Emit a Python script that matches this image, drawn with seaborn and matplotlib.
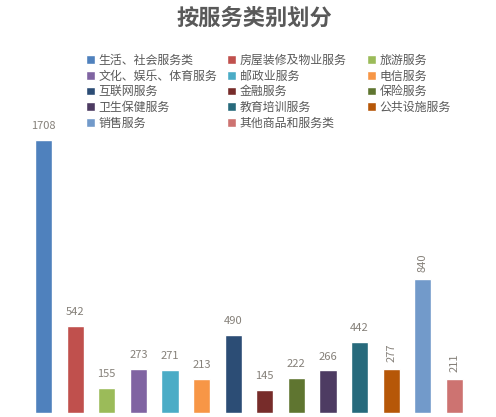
import matplotlib
matplotlib.use("Agg")
import matplotlib.pyplot as plt
import seaborn as sns

# categorias y valores
categorias = ['生活、社会服务类', '房屋装修及物业服务', '旅游服务', '文化、娱乐、体育服务',
              '邮政业服务', '电信服务', '互联网服务', '金融服务', '保险服务',
              '卫生保健服务', '教育培训服务', '公共设施服务', '销售服务', '其他商品和服务类']
valores = [1708, 542, 155, 273, 271, 213, 490, 145, 222, 266, 442, 277, 840, 211]
colores = ['#4F81BD', '#C0504D', '#9BBB59', '#8064A2', '#4BACC6', '#F79646', '#2C4D75',
           '#772C2A', '#5F7530', '#4D3B62', '#276A7C', '#B65708', '#729ACA', '#CD7371']
# etiquetas que van giradas en el original
girados = ['公共设施服务', '销售服务', '其他商品和服务类']

sns.set_style("white")
plt.rcParams['font.family'] = ['Noto Sans CJK SC', 'DejaVu Sans']

W, H = 496, 417
fig = plt.figure(figsize=(W / 100, H / 100), dpi=100)
ax = fig.add_axes([27.7 / W, 4 / H, 442.6 / W, 273 / H])

sns.barplot(x=categorias, y=valores, hue=categorias, palette=colores,
            width=0.54, legend=True, ax=ax, saturation=1)
handles, labels = ax.get_legend_handles_labels()
ax.get_legend().remove()

ax.set_ylim(0, max(valores))
ax.set_xlim(-0.5, len(categorias) - 0.5)
sns.despine(ax=ax, left=True, bottom=True)
ax.set_xticks([])
ax.set_yticks([])
ax.set_xlabel('')
ax.set_ylabel('')

# etiquetas de valores
for i, (cat, v) in enumerate(zip(categorias, valores)):
    if cat in girados:
        ax.annotate(str(v), (i, v), xytext=(0, 5), textcoords='offset points',
                    ha='center', va='bottom', rotation=90, fontsize=8,
                    color='#858079', annotation_clip=False)
    else:
        ax.annotate(str(v), (i, v), xytext=(0, 10), textcoords='offset points',
                    ha='center', va='center', fontsize=8,
                    color='#858079', annotation_clip=False)

fig.text(254 / W, 1 - 18 / H, '按服务类别划分', ha='center', va='center',
         fontsize=16, fontweight='bold', color='#595959')

# leyenda en tres columnas de ancho fijo
col_x = [86, 227, 367]
for c in range(3):
    idx = list(range(c, len(categorias), 3))
    fig.legend([handles[k] for k in idx], [labels[k] for k in idx],
               loc='upper left', bbox_to_anchor=(col_x[c] / W, 1 - 54 / H),
               frameon=False, fontsize=8.6, handlelength=0.75, handleheight=0.75,
               handletextpad=0.3, labelspacing=0.22, borderpad=0,
               borderaxespad=0, labelcolor='#595959')

fig.savefig('out.png', dpi=100)
